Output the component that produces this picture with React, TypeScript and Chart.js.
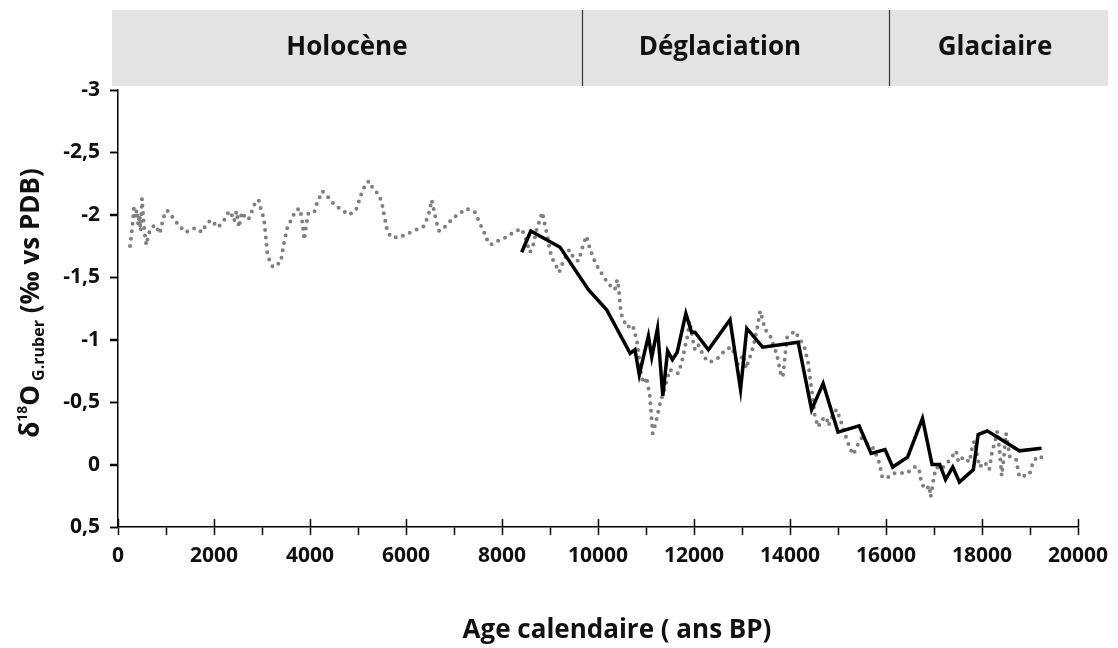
import React, { useEffect, useRef } from "react";
import { Chart, registerables } from "chart.js";

Chart.register(...registerables);

// ---- Data ----
const dottedAges = [
  250, 285, 310, 330, 360, 390, 420, 450, 470, 500, 530, 560, 590, 640, 700, 780, 870, 930, 990, 1050,
  1160, 1280, 1410, 1560, 1660, 1740, 1850, 1940, 2080, 2200, 2280, 2340, 2420, 2470, 2520, 2580, 2650, 2715, 2790, 2870,
  2930, 2980, 3040, 3080, 3110, 3170, 3230, 3390, 3450, 3530, 3620, 3710, 3790, 3830, 3860, 3880, 3930, 3970, 4100, 4150,
  4260, 4380, 4510, 4660, 4810, 4960, 5020, 5080, 5180, 5240, 5310, 5440, 5500, 5560, 5610, 5690, 5860, 6035, 6210, 6375,
  6470, 6535, 6580, 6630, 6690, 6830, 6970, 7110, 7260, 7440, 7540, 7640, 7700, 7760, 7900, 8080, 8240, 8400, 8480, 8580,
  8640, 8720, 8780, 8840, 8890, 8930, 9000, 9060, 9140, 9190, 9260, 9400, 9500, 9590, 9640, 9690, 9760, 9800, 9850, 9920,
  10010, 10110, 10210, 10350, 10400, 10430, 10460, 10480, 10530, 10600, 10720, 10770, 10820, 10910, 10970, 11010, 11080, 11110, 11140, 11200,
  11280, 11340, 11400, 11490, 11670, 11730, 11770, 11810, 11860, 11910, 11990, 12020, 12090, 12210, 12330, 12530, 12650, 12790, 12870, 12900,
  13030, 13080, 13200, 13250, 13320, 13380, 13430, 13480, 13580, 13700, 13750, 13810, 13850, 13900, 13940, 14100, 14210, 14300, 14380, 14430,
  14470, 14520, 14590, 14660, 14760, 14800, 14890, 14970, 15030, 15100, 15200, 15260, 15320, 15400, 15490, 15600, 15740, 15840, 15890, 15920,
  16010, 16150, 16290, 16430, 16600, 16690, 16710, 16780, 16840, 16900, 16930, 16990, 17020, 17060, 17125, 17250, 17350, 17460, 17510, 17610,
  17740, 17800, 17840, 17950, 18060, 18150, 18210, 18260, 18320, 18370, 18410, 18450, 18500, 18580, 18710, 18780, 18990, 19070, 19190, 19310,
];
const dottedValues = [
  -1.75, -1.86, -1.95, -2.05, -1.98, -2.04, -1.92, -2.0, -1.87, -2.13, -1.97, -1.84, -1.76, -1.85, -1.9, -1.92, -1.85, -1.95, -2.03, -2.03,
  -1.97, -1.91, -1.86, -1.89, -1.89, -1.86, -1.93, -1.96, -1.9, -1.95, -2.01, -2.03, -1.95, -2.03, -1.9, -2.02, -1.98, -1.96, -2.03, -2.11,
  -2.12, -2.04, -1.97, -1.82, -1.69, -1.62, -1.58, -1.62, -1.76, -1.9, -1.97, -2.04, -2.05, -1.97, -1.87, -1.8, -1.94, -2.02, -2.03, -2.1,
  -2.19, -2.14, -2.08, -2.04, -2.0, -2.04, -2.11, -2.18, -2.26, -2.27, -2.21, -2.16, -2.09, -1.97, -1.87, -1.82, -1.82, -1.85, -1.88, -1.91,
  -2.0, -2.12, -2.04, -1.95, -1.87, -1.91, -1.97, -2.01, -2.05, -2.02, -1.93, -1.85, -1.79, -1.76, -1.79, -1.82, -1.86, -1.89, -1.83, -1.7,
  -1.74, -1.88, -1.95, -2.02, -1.93, -1.86, -1.71, -1.64, -1.58, -1.54, -1.61, -1.72, -1.65, -1.63, -1.69, -1.76, -1.83, -1.77, -1.71, -1.64,
  -1.57, -1.51, -1.45, -1.4, -1.48, -1.42, -1.28, -1.21, -1.16, -1.1, -1.12, -1.05, -0.97, -0.69, -0.65, -0.7, -0.55, -0.4, -0.25, -0.33,
  -0.47, -0.55, -0.62, -0.76, -0.73, -0.8, -0.86, -0.94, -1.02, -1.15, -0.97, -0.92, -0.96, -0.86, -0.82, -0.86, -0.92, -0.94, -0.85, -0.8,
  -0.88, -0.77, -0.9, -0.97, -1.1, -1.23, -1.16, -1.08, -1.04, -0.91, -0.84, -0.72, -0.7, -0.88, -1.02, -1.07, -1.0, -0.94, -0.81, -0.66,
  -0.55, -0.38, -0.3, -0.36, -0.38, -0.31, -0.4, -0.44, -0.38, -0.3, -0.18, -0.12, -0.08, -0.15, -0.21, -0.17, -0.13, -0.04, 0.04, 0.1,
  0.11, 0.07, 0.065, 0.07, 0.02, 0.03, 0.1, 0.18, 0.2, 0.17, 0.26, 0.12, 0.06, 0.02, 0.04, 0.0, -0.05, -0.11, -0.02, -0.06,
  -0.02, -0.15, -0.19, 0.02, -0.02, 0.04, -0.1, -0.17, -0.27, -0.1, 0.09, -0.04, -0.25, -0.06, -0.04, 0.1, 0.08, -0.03, -0.07, -0.04,
];

const solidAges = [
  8410, 8600, 9210, 9800, 10180, 10670, 10770, 10860, 11050, 11120, 11240, 11350, 11450, 11550, 11650, 11830, 11950, 12020, 12300, 12750,
  12970, 13100, 13430, 14170, 14450, 14690, 15000, 15440, 15690, 15980, 16140, 16450, 16760, 16960, 17120, 17240, 17390, 17530, 17820, 17920,
  18110, 18780, 19240,
];
const solidValues = [
  -1.7, -1.87, -1.74, -1.4, -1.24, -0.89, -0.92, -0.72, -1.03, -0.86, -1.09, -0.55, -0.91, -0.84, -0.9, -1.21, -1.06, -1.06, -0.92, -1.16,
  -0.6, -1.09, -0.94, -0.98, -0.44, -0.65, -0.26, -0.31, -0.09, -0.12, 0.02, -0.06, -0.37, 0.0, 0.0, 0.12, 0.02, 0.14, 0.04, -0.24,
  -0.27, -0.11, -0.13,
];

const periodNames = ["Holocène", "Déglaciation", "Glaciaire"];
const periodBoundaries = [9670, 16060];
const periodLabelAges = [4770, 12540, 18270];

const xAxisTitle = "Age calendaire ( ans BP)";
const yTitleParts = ["δ", "18", "O", " G.ruber", " (‰ vs PDB)"];

const FONT = "'Open Sans', 'DejaVu Sans', sans-serif";

const bandPlugin = {
  id: "periodBand",
  beforeDraw(chart: any) {
    const { ctx, chartArea, scales } = chart;
    const x = scales.x;
    const left = chartArea.left - 6;
    const right = chartArea.right + 30;
    const top = 10;
    const bottom = 86;
    ctx.save();
    ctx.fillStyle = "#e3e3e3";
    ctx.fillRect(left, top, right - left, bottom - top);
    ctx.strokeStyle = "#333";
    ctx.lineWidth = 1.2;
    periodBoundaries.forEach((b) => {
      const px = Math.round(x.getPixelForValue(b)) + 0.5;
      ctx.beginPath();
      ctx.moveTo(px, top);
      ctx.lineTo(px, bottom);
      ctx.stroke();
    });
    ctx.fillStyle = "#111";
    ctx.font = `bold 26px ${FONT}`;
    ctx.textAlign = "center";
    ctx.textBaseline = "middle";
    periodNames.forEach((name, i) => {
      ctx.fillText(name, x.getPixelForValue(periodLabelAges[i]), (top + bottom) / 2);
    });
    ctx.restore();
  },
};

const decorPlugin = {
  id: "decor",
  afterDraw(chart: any) {
    const { ctx, chartArea, scales } = chart;
    const x = scales.x;
    const y = scales.y;
    ctx.save();
    ctx.strokeStyle = "#000";
    ctx.lineWidth = 1.5;
    // inner half of the major x ticks (cross style)
    for (let v = 0; v <= 20000; v += 2000) {
      const px = Math.round(x.getPixelForValue(v)) + 0.5;
      ctx.beginPath();
      ctx.moveTo(px, chartArea.bottom);
      ctx.lineTo(px, chartArea.bottom - 8);
      ctx.stroke();
    }
    // outer y ticks
    y.ticks.forEach((t: any) => {
      const py = Math.round(y.getPixelForValue(t.value)) + 0.5;
      ctx.beginPath();
      ctx.moveTo(chartArea.left, py);
      ctx.lineTo(chartArea.left - 8, py);
      ctx.stroke();
    });
    // x axis title
    ctx.fillStyle = "#111";
    ctx.font = `bold 26px ${FONT}`;
    ctx.textAlign = "center";
    ctx.textBaseline = "middle";
    ctx.fillText(xAxisTitle, 617, 631);

    // y axis title with super/subscripts
    const fonts = [
      `bold 26px ${FONT}`,
      `bold 14px ${FONT}`,
      `bold 26px ${FONT}`,
      `bold 16px ${FONT}`,
      `bold 26px ${FONT}`,
    ];
    const shifts = [0, -12, 0, 5, 0];
    let total = 0;
    const widths = yTitleParts.map((t, i) => {
      ctx.font = fonts[i];
      const w = ctx.measureText(t).width;
      total += w;
      return w;
    });
    const cx = 30;
    const cy = 303;
    ctx.translate(cx, cy);
    ctx.rotate(-Math.PI / 2);
    ctx.textAlign = "left";
    ctx.textBaseline = "alphabetic";
    let pos = -total / 2;
    yTitleParts.forEach((t, i) => {
      ctx.font = fonts[i];
      ctx.fillText(t, pos, 9 + shifts[i]);
      pos += widths[i];
    });
    ctx.restore();
  },
};

export default function App() {
  const canvasRef = useRef<HTMLCanvasElement | null>(null);

  useEffect(() => {
    document.body.style.margin = "0";
    const canvas = canvasRef.current;
    if (!canvas) return;

    const chart = new Chart(canvas, {
      type: "line",
      data: {
        datasets: [
          {
            label: "solid",
            data: solidAges.map((a, i) => ({ x: a, y: solidValues[i] })),
            borderColor: "#000",
            borderWidth: 3.5,
            pointRadius: 0,
            tension: 0,
            fill: false,
            order: 0,
          },
          {
            label: "dotted",
            data: dottedAges.map((a, i) => ({ x: a, y: dottedValues[i] })),
            borderColor: "#7f7f7f",
            borderWidth: 4,
            borderDash: [0, 7.5],
            borderCapStyle: "round",
            pointRadius: 0,
            tension: 0,
            fill: false,
            order: 1,
          },
        ],
      },
      options: {
        animation: false,
        responsive: true,
        maintainAspectRatio: false,
        layout: { padding: { top: 90, right: 40, bottom: 0, left: 0 } },
        plugins: {
          legend: { display: false },
          tooltip: { enabled: false },
        },
        scales: {
          x: {
            type: "linear",
            min: 0,
            max: 20000,
            afterFit: (s: any) => {
              s.height = 121;
            },
            border: { color: "#000", width: 1.5 },
            grid: {
              drawOnChartArea: false,
              drawTicks: true,
              tickLength: 8,
              tickWidth: 1.5,
              color: "#000",
            },
            ticks: {
              stepSize: 1000,
              autoSkip: false,
              maxRotation: 0,
              padding: 8,
              color: "#111",
              font: { family: FONT, size: 21, weight: "bold" },
              callback: (v: any) => (Number(v) % 2000 === 0 ? String(v) : ""),
            },
          },
          y: {
            type: "linear",
            reverse: true,
            min: -3,
            max: 0.5,
            afterFit: (s: any) => {
              s.width = 118;
            },
            border: { color: "#000", width: 1.5 },
            grid: {
              drawOnChartArea: false,
              drawTicks: true,
              tickLength: 8,
              tickWidth: 1.5,
              color: "#000",
            },
            ticks: {
              stepSize: 0.5,
              padding: 10,
              color: "#111",
              font: { family: FONT, size: 21, weight: "bold" },
              callback: (v: any) => String(Math.round(Number(v) * 10) / 10).replace(".", ","),
            },
          },
        },
      },
      plugins: [bandPlugin, decorPlugin],
    } as any);

    return () => chart.destroy();
  }, []);

  return (
    <div style={{ position: "relative", width: "1118px", height: "648px", background: "#fff" }}>
      <canvas ref={canvasRef} />
    </div>
  );
}
